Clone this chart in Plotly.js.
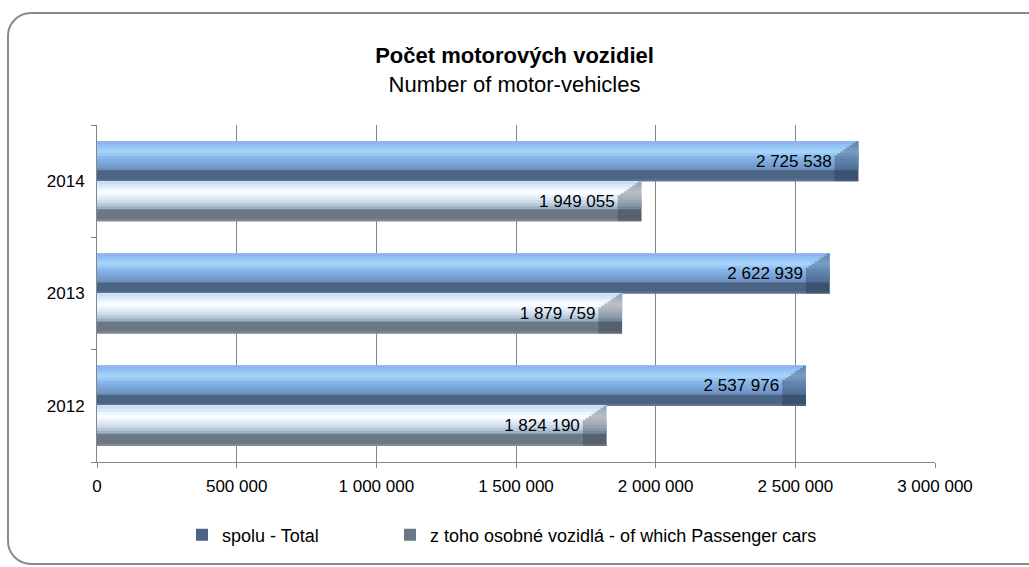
<!DOCTYPE html>
<html>
<head>
<meta charset="utf-8">
<script src="https://cdn.plot.ly/plotly-3.0.1.min.js"></script>
<style>
  html, body { margin: 0; padding: 0; background: #fff; overflow: hidden; }
  #frame {
    position: absolute; left: 7px; top: 12px; width: 1100px; height: 549px;
    border: 2px solid #8a8a8a; border-radius: 24px;
  }
  #chart { position: absolute; left: 0; top: 0; width: 1029px; height: 567px; }
</style>
</head>
<body>
<div id="frame"></div>
<div id="chart"></div>
<script>
// data
var years = ['2012', '2013', '2014'];
var total = [2537976, 2622939, 2725538];
var passenger = [1824190, 1879759, 1949055];
var seriesNames = ['spolu - Total', 'z toho osobné vozidlá - of which Passenger cars'];
var xTickVals = [0, 500000, 1000000, 1500000, 2000000, 2500000, 3000000];
var xTickText = ['0', '500 000', '1 000 000', '1 500 000', '2 000 000', '2 500 000', '3 000 000'];

var FONT = 'Liberation Sans, Arial, sans-serif';

var W = 0.356;          // thickness of one bar in category units
var U = W / 40;         // one "pixel" of the bevel
var CAP = 85000;        // length of the end bevel

function fmt(v) {
  return String(v).replace(/\B(?=(\d{3})+(?!\d))/g, ' ');
}

// bevel bands: [depth from bar top, colour]; drawn deepest first
var totalBands = [[40, '#4b6483'], [29, '#6a90c0'], [27, '#7299ca'], [24, '#7aa4d6'], [21, '#80acdf'],
  [18, '#89b6e8'], [15, '#98c6f3'], [12, '#a6d5fb'], [9, '#9dcbf8'], [6, '#93c1f3'], [3, '#8bb7ee']];
var passBands = [[40, '#6c7886'], [28, '#9eafc2'], [25, '#b8c8da'], [22, '#cbd9e9'], [19, '#dbe7f4'],
  [16, '#ebf3fc'], [13, '#fafdff'], [9, '#ebf5fe'], [6, '#d9e9f9'], [3, '#c9ddf3']];

var data = [];

function addSeries(name, values, barTop, bands, bottomColor, capColor, legendId) {
  bands.forEach(function (b, i) {
    data.push({
      type: 'bar', orientation: 'h', y: years, x: values,
      offset: barTop - b[0] * U, width: b[0] * U,
      marker: {color: b[1], line: {width: 0}},
      name: name, legend: legendId, showlegend: i === 0,
      hoverinfo: 'skip'
    });
  });
  // thin lighter rim on the bottom edge
  data.push({
    type: 'bar', orientation: 'h', y: years, x: values,
    offset: barTop - W, width: 2 * U,
    marker: {color: bottomColor, line: {width: 0}},
    legend: legendId, showlegend: false, hoverinfo: 'skip'
  });
  // darker bevel at the end of the bar, with a slanted upper corner
  var steps = 8, slant = 16;
  for (var k = 0; k <= steps; k++) {
    var d0 = k < steps ? k * slant / steps : slant;
    var d1 = k < steps ? (k + 1) * slant / steps : 40;
    var len = k < steps ? CAP * (k + 1) / steps : CAP;
    data.push({
      type: 'bar', orientation: 'h', y: years,
      x: values.map(function () { return len; }),
      base: values.map(function (v) { return v - len; }),
      offset: barTop - d1 * U, width: (d1 - d0) * U,
      marker: {color: capColor, line: {width: 0}},
      legend: legendId, showlegend: false, hoverinfo: 'skip'
    });
  }
  // value labels
  data.push({
    type: 'bar', orientation: 'h', y: years,
    x: values.map(function (v) { return v - CAP; }),
    offset: barTop - W, width: W,
    marker: {color: 'rgba(0,0,0,0)', line: {width: 0}},
    text: values.map(fmt), textposition: 'inside', insidetextanchor: 'end',
    insidetextfont: {family: FONT, size: 17, color: '#000'},
    constraintext: 'none', cliponaxis: false,
    legend: legendId, showlegend: false, hoverinfo: 'skip'
  });
}

addSeries(seriesNames[0], total, W, totalBands, '#5b7494', 'rgba(30,45,70,0.34)', 'legend');
addSeries(seriesNames[1], passenger, 0, passBands, '#7d8996', 'rgba(40,50,60,0.32)', 'legend2');

function legendAt(xpx) {
  return {
    orientation: 'h',
    x: (xpx - 97) / 838, xanchor: 'left',
    y: (462 - 535) / 337, yanchor: 'middle',
    itemwidth: 30,
    font: {family: FONT, size: 18, color: '#000'},
    bgcolor: 'rgba(0,0,0,0)'
  };
}

var layout = {
  width: 1029,
  height: 567,
  margin: {l: 97, r: 94, t: 125, b: 105},
  paper_bgcolor: 'rgba(0,0,0,0)',
  plot_bgcolor: 'rgba(0,0,0,0)',
  barmode: 'overlay',
  font: {family: FONT, size: 17, color: '#000'},
  title: {
    text: '<b>Počet motorových vozidiel</b><br>Number of motor-vehicles',
    font: {family: FONT, size: 22, color: '#000'},
    x: 0.5, xref: 'container', xanchor: 'center',
    y: 1 - 63 / 567, yref: 'container', yanchor: 'top'
  },
  xaxis: {
    range: [0, 3000000],
    tickvals: xTickVals,
    ticktext: xTickText,
    showgrid: true, gridcolor: '#868686', gridwidth: 1,
    zeroline: false,
    showline: true, linecolor: '#868686', linewidth: 1,
    ticks: 'outside', ticklen: 5, tickcolor: '#868686',
    ticklabelstandoff: 4,
    tickfont: {family: FONT, size: 17, color: '#000'},
    fixedrange: true
  },
  yaxis: {
    type: 'category',
    categoryorder: 'array', categoryarray: years,
    range: [-0.5, 2.5],
    showgrid: false, zeroline: false,
    showline: true, linecolor: '#868686', linewidth: 1,
    ticks: 'outside', ticklen: 5, tickcolor: '#868686', tickson: 'boundaries',
    ticklabelstandoff: 8,
    tickfont: {family: FONT, size: 17, color: '#000'},
    fixedrange: true
  },
  showlegend: true,
  legend: legendAt(182),
  legend2: legendAt(390)
};

Plotly.newPlot('chart', data, layout, {displayModeBar: false, responsive: false});
</script>
</body>
</html>
